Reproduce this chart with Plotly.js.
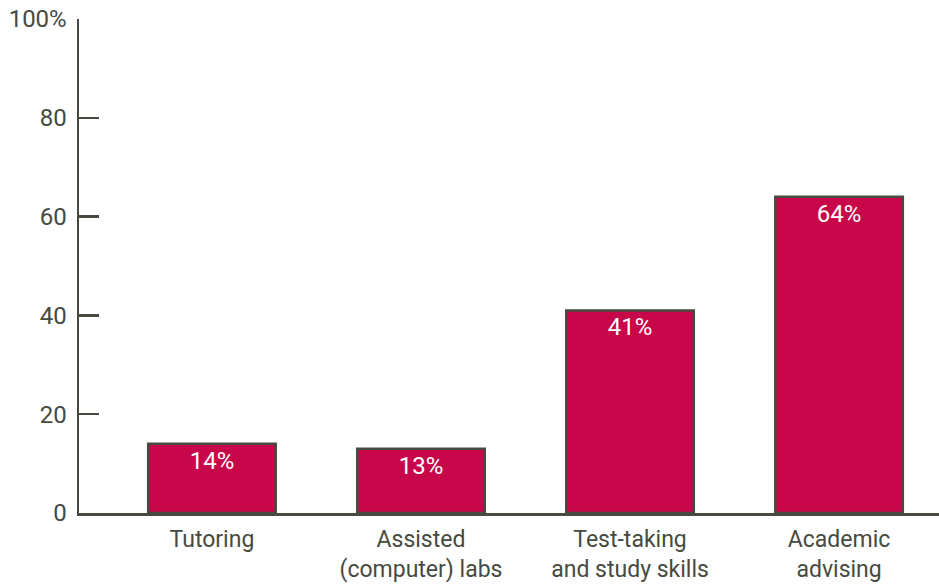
<!DOCTYPE html>
<html>
<head>
<meta charset="utf-8">
<script src="https://cdn.plot.ly/plotly-3.0.1.min.js"></script>
<style>html,body{margin:0;padding:0;background:#fff;}#chart{width:939px;height:586px;}</style>
</head>
<body>
<div id="chart"></div>
<script>
const categories = ["Tutoring", "Assisted<br>(computer) labs", "Test-taking<br>and study skills", "Academic<br>advising"];
const values = [14, 13, 41, 64];
const barLabels = ["14%", "13%", "41%", "64%"];
const yTickVals = [0, 20, 40, 60, 80, 100];
const yTickText = ["0", "20", "40", "60", "80", "100%"];

const dark = "#474a40";
const font = "Roboto, 'Open Sans', sans-serif";

const trace = {
  type: "bar",
  x: [0, 1, 2, 3],
  y: values,
  text: barLabels,
  textposition: "inside",
  insidetextanchor: "end",
  textfont: {family: font, size: 24, color: "#ffffff"},
  width: 0.61,
  marker: {color: "#c8064a", line: {color: dark, width: 2.5}},
  hoverinfo: "none"
};

const layout = {
  width: 939, height: 586,
  margin: {l: 79, r: 0, t: 19, b: 73},
  paper_bgcolor: "#ffffff", plot_bgcolor: "#ffffff",
  showlegend: false,
  font: {family: font, size: 23, color: dark},
  xaxis: {
    range: [-0.636, 3.478],
    tickmode: "array", tickvals: [0, 1, 2, 3], ticktext: categories,
    showline: true, linecolor: dark, linewidth: 2.5,
    showgrid: false, zeroline: false, ticks: "",
    ticklabelstandoff: 4,
    tickfont: {family: font, size: 23, color: dark}
  },
  yaxis: {
    range: [0, 100],
    tickmode: "array", tickvals: yTickVals, ticktext: yTickText,
    showline: true, linecolor: dark, linewidth: 2.5,
    showgrid: false, zeroline: false,
    ticks: "inside", ticklen: 20, tickwidth: 2.5, tickcolor: dark,
    ticklabelstandoff: 5,
    tickfont: {family: font, size: 24, color: dark}
  }
};

Plotly.newPlot("chart", [trace], layout, {displayModeBar: false, staticPlot: true});
</script>
</body>
</html>
